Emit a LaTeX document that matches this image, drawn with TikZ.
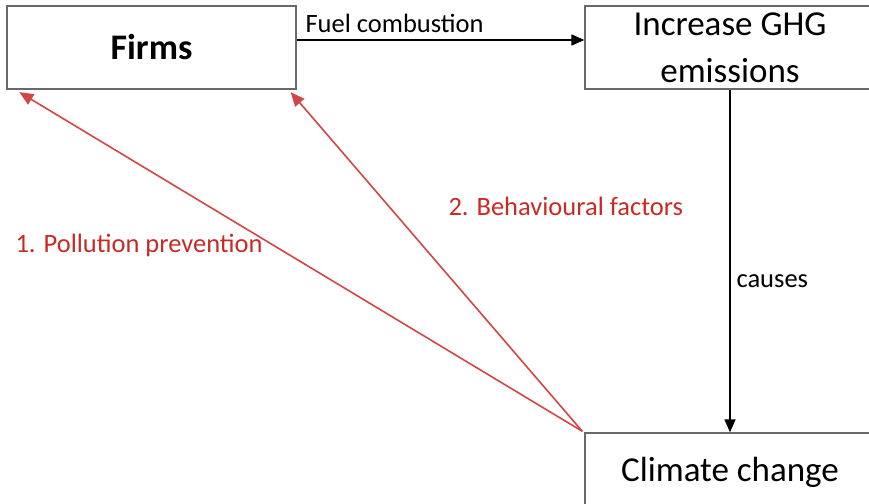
\documentclass[tikz,border=0pt]{standalone}
\usepackage{fontspec}
\setmainfont{Carlito}
\usetikzlibrary{arrows.meta}
\definecolor{boxgray}{RGB}{105,105,105}
\definecolor{linkred}{RGB}{210,70,70}
\definecolor{labelred}{RGB}{200,42,38}

\begin{document}
\begin{tikzpicture}[x=1pt,y=-1pt,
  box/.style={draw=boxgray, line width=1.4pt, rectangle, inner sep=0pt, align=center},
  bigtext/.style={font=\fontsize{35}{47}\selectfont},
  smalltext/.style={font=\fontsize{26.5}{30}\selectfont},
  flow/.style={draw=black, line width=1.6pt, -{Triangle[length=13pt,width=11pt]}},
  feedback/.style={draw=linkred, line width=1.6pt, -{Triangle[length=14pt,width=12pt]}},
]
\useasboundingbox (0,0) rectangle (869,503);

% boxes
\node[box, minimum width=289pt, minimum height=83pt,
      font=\bfseries\fontsize{36}{40}\selectfont] (firms) at (151.5,47.5) {Firms};
\node[box, minimum width=290pt, minimum height=83pt, bigtext] (ghg) at (730,47.5)
      {Increase GHG\\emissions};
\node[box, minimum width=290pt, minimum height=72pt, bigtext, text depth=0pt] (climate) at (730,469)
      {Climate change};

% main chain
\draw[flow] ([yshift=7.5pt]firms.east) -- ([yshift=7.5pt]ghg.west);
\node[smalltext, anchor=base west] (fuel) at (302,33) {Fuel combustion};

\draw[flow] (ghg.south) -- (climate.north);
\node[smalltext, anchor=base west] (causes) at (733,287) {causes};

% feedback arrows
\draw[feedback] ([xshift=-2pt,yshift=1pt]climate.north west) -- ([xshift=13pt,yshift=-2.5pt]firms.south west);
\draw[feedback] ([xshift=-2pt,yshift=1pt]climate.north west) -- ([xshift=-6pt,yshift=-2.5pt]firms.south east);

\node[smalltext, text=labelred, anchor=base west] (prevention) at (12,252) {1. Pollution prevention};
\node[smalltext, text=labelred, anchor=base west] (behaviour) at (445,215) {2. Behavioural factors};
\end{tikzpicture}
\end{document}
